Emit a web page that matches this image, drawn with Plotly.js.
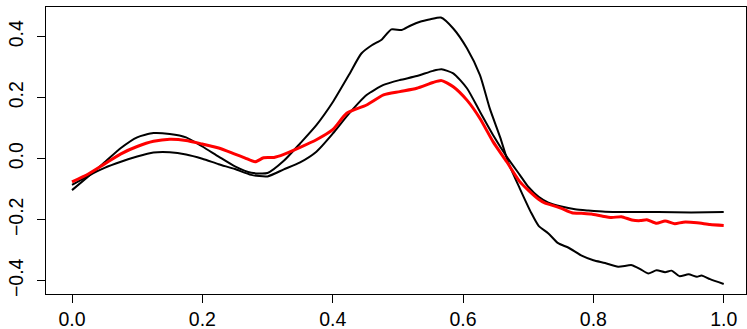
<!DOCTYPE html>
<html>
<head>
<meta charset="utf-8">
<script src="https://cdn.plot.ly/plotly-3.0.1.min.js"></script>
<style>html,body{margin:0;padding:0;background:#fff;}#chart{width:747px;height:329px;}</style>
</head>
<body>
<div id="chart"></div>
<script>
// Curve A (black, large peak)
const xA = [0,0.025,0.05,0.075,0.1,0.125,0.15,0.175,0.2,0.225,0.25,0.275,0.3,0.325,0.35,0.375,0.4,0.425,0.444,0.46,0.475,0.49,0.506,0.519,0.534,0.55,0.566,0.585,0.606,0.626,0.641,0.657,0.669,0.687,0.705,0.716,0.731,0.746,0.762,0.782,0.8,0.818,0.838,0.859,0.872,0.884,0.897,0.91,0.92,0.932,0.946,0.959,0.966,0.979,1.0];
const yA = [-0.103,-0.058,-0.012,0.035,0.07,0.084,0.081,0.07,0.04,0.007,-0.025,-0.046,-0.047,-0.007,0.05,0.11,0.185,0.275,0.345,0.372,0.39,0.424,0.422,0.436,0.449,0.457,0.463,0.427,0.362,0.274,0.165,0.07,-0.01,-0.097,-0.179,-0.22,-0.245,-0.277,-0.292,-0.318,-0.333,-0.342,-0.354,-0.349,-0.362,-0.376,-0.366,-0.372,-0.367,-0.385,-0.379,-0.387,-0.383,-0.395,-0.411];
// Curve B (black, smooth)
const xB = [0,0.025,0.05,0.075,0.1,0.125,0.15,0.175,0.2,0.225,0.25,0.275,0.3,0.325,0.35,0.375,0.4,0.425,0.452,0.478,0.503,0.529,0.554,0.567,0.585,0.606,0.626,0.646,0.667,0.687,0.7,0.716,0.731,0.751,0.772,0.792,0.818,0.85,0.9,0.95,1.0];
const yB = [-0.086,-0.056,-0.03,-0.01,0.007,0.02,0.021,0.014,0,-0.018,-0.034,-0.053,-0.058,-0.035,-0.012,0.023,0.082,0.148,0.209,0.242,0.258,0.271,0.288,0.293,0.28,0.231,0.154,0.078,0.007,-0.053,-0.092,-0.125,-0.144,-0.157,-0.166,-0.17,-0.174,-0.175,-0.175,-0.176,-0.175];
// Curve R (red)
const xR = [0,0.025,0.05,0.075,0.1,0.125,0.15,0.175,0.2,0.225,0.25,0.265,0.281,0.294,0.31,0.325,0.35,0.375,0.4,0.4215,0.452,0.478,0.503,0.529,0.554,0.567,0.585,0.606,0.626,0.646,0.667,0.687,0.7,0.716,0.726,0.736,0.751,0.767,0.782,0.797,0.813,0.828,0.843,0.859,0.872,0.882,0.897,0.91,0.925,0.938,0.959,0.979,1.0];
const yR = [-0.076,-0.05,-0.017,0.016,0.04,0.057,0.064,0.06,0.048,0.035,0.015,0.003,-0.01,0.003,0.004,0.014,0.037,0.062,0.095,0.149,0.176,0.209,0.22,0.231,0.25,0.256,0.236,0.192,0.132,0.056,-0.01,-0.075,-0.103,-0.133,-0.146,-0.152,-0.163,-0.177,-0.179,-0.181,-0.188,-0.193,-0.19,-0.201,-0.203,-0.2,-0.212,-0.204,-0.213,-0.208,-0.21,-0.216,-0.219];

const xTicks = [0,0.2,0.4,0.6,0.8,1.0];
const yTicks = [-0.4,-0.2,0.0,0.2,0.4];
const fmt = v => v.toFixed(1).replace('-', '\u2212');

const font = {family: 'Liberation Sans, Arial, sans-serif', size: 19.5, color: '#000'};
const traces = [
  {x: xA, y: yA, mode: 'lines', line: {color: '#000', width: 2, shape: 'spline', smoothing: 0.6}, hoverinfo: 'skip'},
  {x: xB, y: yB, mode: 'lines', line: {color: '#000', width: 2, shape: 'spline', smoothing: 0.6}, hoverinfo: 'skip'},
  {x: xR, y: yR, mode: 'lines', line: {color: '#ff0000', width: 3, shape: 'spline', smoothing: 0.6}, hoverinfo: 'skip'}
];
const layout = {
  width: 747, height: 329,
  margin: {l: 46, r: 1, t: 7, b: 35},
  paper_bgcolor: '#fff', plot_bgcolor: '#fff',
  showlegend: false,
  font: font,
  xaxis: {
    range: [-0.0399, 1.0342], tickvals: xTicks, ticktext: xTicks.map(fmt),
    showgrid: false, zeroline: false, showline: true, mirror: true, linecolor: '#000', linewidth: 1,
    ticks: 'outside', ticklen: 8, tickwidth: 1, tickcolor: '#000', tickfont: font, ticklabelstandoff: 0
  },
  yaxis: {
    range: [-0.4436, 0.4974], tickvals: yTicks, ticktext: yTicks.map(fmt),
    tickangle: -90,
    showgrid: false, zeroline: false, showline: true, mirror: true, linecolor: '#000', linewidth: 1,
    ticks: 'outside', ticklen: 8, tickwidth: 1, tickcolor: '#000', tickfont: font, ticklabelstandoff: 6
  }
};
Plotly.newPlot('chart', traces, layout, {staticPlot: true, displayModeBar: false});
</script>
</body>
</html>
